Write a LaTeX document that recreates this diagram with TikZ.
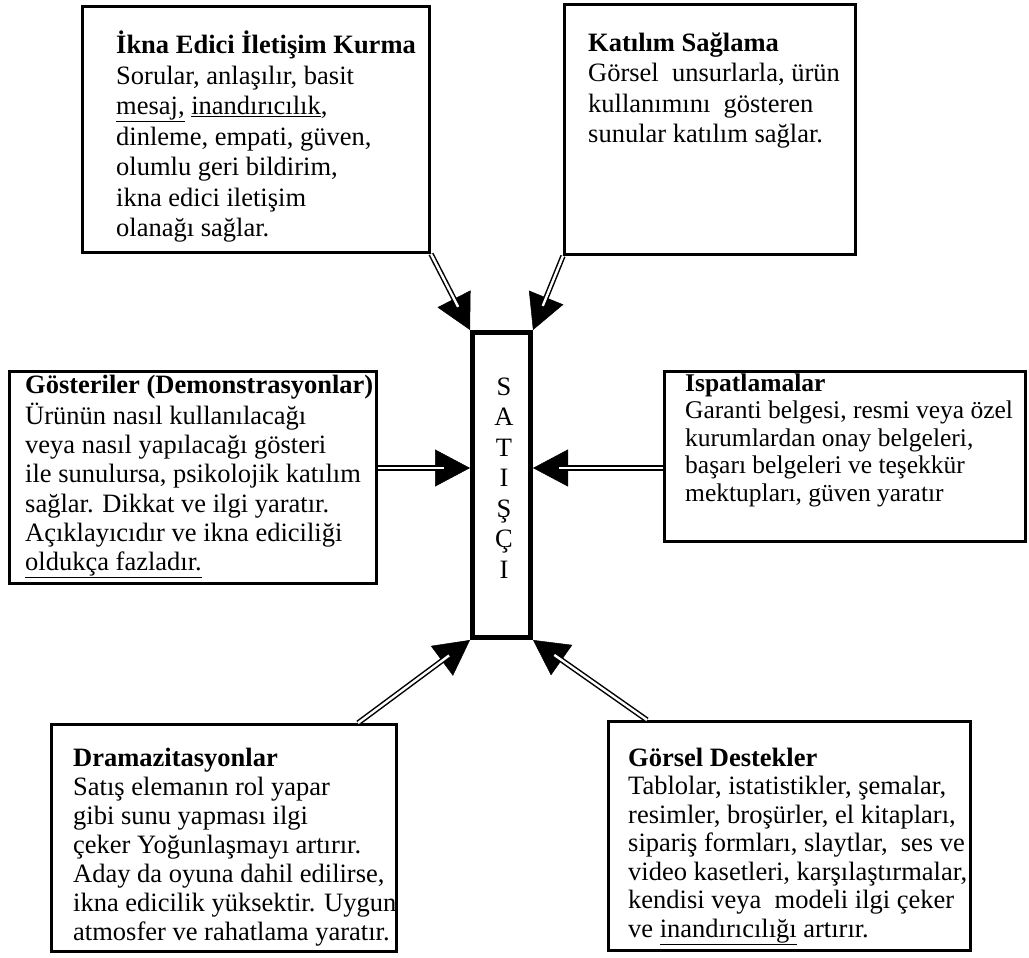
\documentclass[tikz,border=0pt]{standalone}
\usepackage{fontspec}
\setmainfont{Liberation Serif}
\usetikzlibrary{arrows.meta}
\newcommand{\linkarrow}[2]{\draw[arrowhead] #1 -- #2; \draw[arrowline] #1 -- #2;}
\begin{document}
\begin{tikzpicture}[x=1pt,y=-1pt,
 frame/.style={draw, line width=3pt, rectangle, inner sep=0pt},
 core/.style={draw, line width=5pt, rectangle, inner sep=0pt, minimum width=58pt, minimum height=305pt},
 txt/.style={anchor=north west, align=left, inner sep=0pt},
 arrowline/.style={double, line width=1.5pt, double distance=2.4pt, shorten >=26pt},
 arrowhead/.style={-{Triangle[length=35pt,width=37pt]}, line width=0.5pt},
]
\useasboundingbox (0,0) rectangle (1029,958);
\fill[white] (0,0) rectangle (1029,958);

% texts (clipped horizontally to their boxes)
\begin{scope}
\clip (82.5,0) rectangle (429.5,260);
\node[txt, font=\fontsize{26.5}{30.5}\selectfont] (t1) at (116,30.65) {\strut\textbf{İkna Edici İletişim Kurma}\\
Sorular, anlaşılır, basit\\
\underline{mesaj,} \underline{inandırıcılık},\\
dinleme, empati, güven,\\
olumlu geri bildirim,\\
ikna edici iletişim\\
olanağı sağlar.};
\end{scope}
\begin{scope}
\clip (564.5,0) rectangle (855.5,260);
\node[txt, font=\fontsize{26.5}{30.5}\selectfont] (t2) at (588,29.65) {\strut\textbf{Katılım Sağlama}\\
Görsel\ \ unsurlarla, ürün\\
kullanımını\ \ gösteren\\
sunular katılım sağlar.};
\end{scope}
\begin{scope}
\clip (9.5,360) rectangle (377,590);
\node[txt, font=\fontsize{26.5}{29.2}\selectfont] (t3) at (25,372.56) {\strut\textbf{Gösteriler (Demonstrasyonlar)}\\
Ürünün nasıl kullanılacağı\\
veya nasıl yapılacağı gösteri\\
ile sunulursa, psikolojik katılım\\
sağlar. Dikkat ve ilgi yaratır.\\
Açıklayıcıdır ve ikna ediciliği\\
\underline{oldukça fazladır.}};
\end{scope}
\begin{scope}
\clip (664.5,360) rectangle (1025.5,550);
\node[txt, font=\fontsize{25.5}{27.5}\selectfont] (t4) at (685,371.75) {\strut\textbf{Ispatlamalar}\\
Garanti belgesi, resmi veya özel\\
kurumlardan onay belgeleri,\\
başarı belgeleri ve teşekkür\\
mektupları, güven yaratır};
\end{scope}
\begin{scope}
\clip (51.5,715) rectangle (397,958);
\node[txt, font=\fontsize{26.5}{29}\selectfont] (t5) at (73,745.7) {\strut\textbf{Dramazitasyonlar}\\
Satış elemanın rol yapar\\
gibi sunu yapması ilgi\\
çeker Yoğunlaşmayı artırır.\\
Aday da oyuna dahil edilirse,\\
ikna edicilik yüksektir. Uygun\\
atmosfer ve rahatlama yaratır.};
\end{scope}
\begin{scope}
\clip (608.5,715) rectangle (970.5,958);
\node[txt, font=\fontsize{26.5}{28.5}\selectfont] (t6) at (628,746.05) {\strut\textbf{Görsel Destekler}\\
Tablolar, istatistikler, şemalar,\\
resimler, broşürler, el kitapları,\\
sipariş formları, slaytlar,\ \ ses ve\\
video kasetleri, karşılaştırmalar,\\
kendisi veya\ \ modeli ilgi çeker\\
ve \underline{inandırıcılığı} artırır.};
\end{scope}

% frames
\node[frame, minimum width=347pt, minimum height=246pt] (b1) at (256,129.5) {};
\node[frame, minimum width=291pt, minimum height=250pt] (b2) at (710,129.5) {};
\node[frame, minimum width=367pt, minimum height=212pt] (b3) at (193,477.5) {};
\node[frame, minimum width=361pt, minimum height=170pt] (b4) at (845,456.5) {};
\node[frame, minimum width=345pt, minimum height=227pt] (b5) at (224,838) {};
\node[frame, minimum width=362pt, minimum height=229pt] (b6) at (789.5,836) {};

% central box
\node[core] (c) at (501.5,485) {};
\node[anchor=north, align=center, inner sep=0pt, font=\fontsize{26.5}{30.5}\selectfont] (ct) at (504,373.65) {\strut S\\A\\T\\I\\Ş\\Ç\\I};

% helper coordinates
\coordinate (m) at (501.5,468);
\coordinate (p5) at (358,718);
\coordinate (p6) at (647,718);

% connectors
\linkarrow{(b1.south east)}{(c.north west)}
\linkarrow{(b2.south west)}{(c.north east)}
\linkarrow{(b3.east |- m)}{(c.west |- m)}
\linkarrow{(b4.west |- m)}{(c.east |- m)}
\linkarrow{(b5.north -| p5)}{(c.south west)}
\linkarrow{(b6.north -| p6)}{(c.south east)}
\end{tikzpicture}
\end{document}
